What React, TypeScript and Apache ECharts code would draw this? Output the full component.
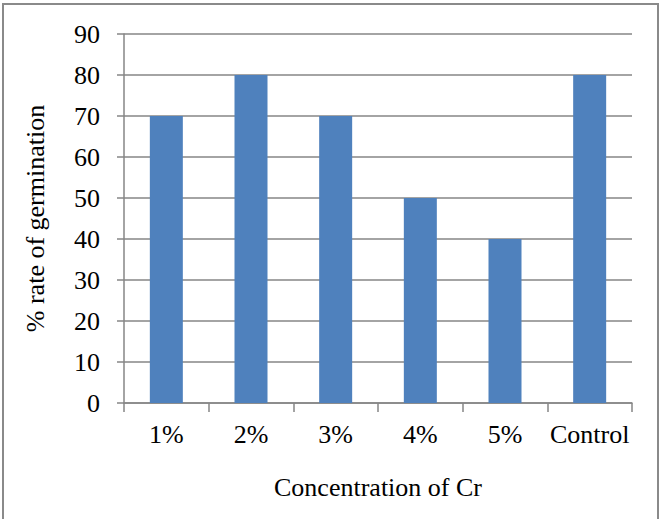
import React, { useEffect, useRef } from "react";
import * as echarts from "echarts";

// Germination rate for each chromium concentration
const categories = ["1%", "2%", "3%", "4%", "5%", "Control"];
const germinationRate = [70, 80, 70, 50, 40, 80];

const yMin = 0;
const yMax = 90;
const yStep = 10;

const FONT = "Liberation Serif";

export default function App() {
  const ref = useRef<HTMLDivElement>(null);

  useEffect(() => {
    document.body.style.margin = "0";
    if (!ref.current) return;
    const chart = echarts.init(ref.current, undefined, { renderer: "svg" });
    chart.setOption({
      animation: false,
      backgroundColor: "#ffffff",
      textStyle: { fontFamily: FONT },
      graphic: [
        {
          type: "rect",
          shape: { x: 3, y: 4, width: 655, height: 530 },
          style: { fill: "none", stroke: "#8a8a8a", lineWidth: 2 },
          silent: true,
        },
      ],
      grid: { left: 124, right: 30, top: 34, bottom: 116 },
      xAxis: {
        type: "category",
        data: categories,
        boundaryGap: true,
        name: "Concentration of Cr",
        nameLocation: "middle",
        nameGap: 71,
        nameTextStyle: { fontFamily: FONT, fontSize: 26, color: "#000" },
        axisLine: { show: true, lineStyle: { color: "#868686", width: 1.5 } },
        axisTick: { show: true, length: 9, alignWithLabel: false, lineStyle: { color: "#868686", width: 1.5 } },
        axisLabel: { fontFamily: FONT, fontSize: 26, color: "#000", margin: 18, interval: 0 },
      },
      yAxis: {
        type: "value",
        min: yMin,
        max: yMax,
        interval: yStep,
        name: "% rate of germination",
        nameLocation: "middle",
        nameGap: 76,
        nameRotate: 90,
        nameTextStyle: { fontFamily: FONT, fontSize: 26, color: "#000" },
        axisLine: { show: true, lineStyle: { color: "#868686", width: 1.5 } },
        axisTick: { show: true, length: 7, lineStyle: { color: "#868686", width: 1.5 } },
        axisLabel: { fontFamily: FONT, fontSize: 26, color: "#000", margin: 24 },
        splitLine: { show: true, lineStyle: { color: "#868686", width: 1.5 } },
      },
      series: [
        {
          type: "bar",
          data: germinationRate,
          barWidth: 33,
          itemStyle: { color: "#4f81bd" },
        },
      ],
    });
    return () => chart.dispose();
  }, []);

  return <div ref={ref} style={{ width: 662, height: 519 }} />;
}
